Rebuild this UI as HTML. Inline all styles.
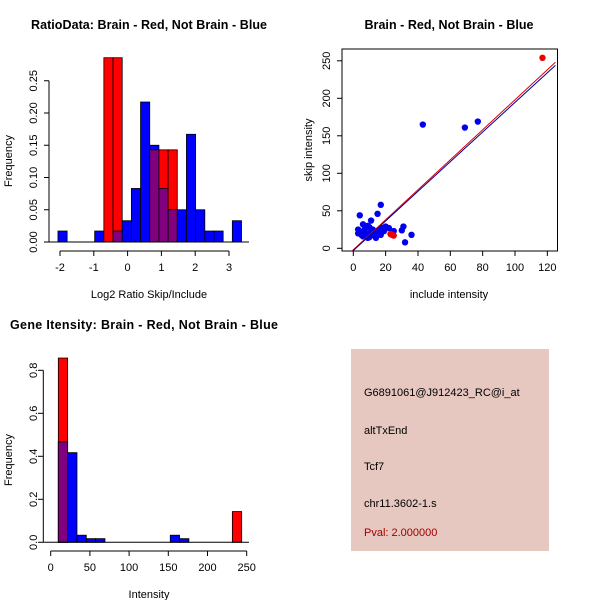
<!DOCTYPE html>
<html><head><meta charset="utf-8"><style>
body{margin:0;background:#fff;}
svg text{font-family:"Liberation Sans",sans-serif;fill:#000;}
</style></head><body>
<svg id="s" width="600" height="600" xmlns="http://www.w3.org/2000/svg">
<text x="149" y="29" font-size="12.5" font-weight="bold" text-anchor="middle" textLength="236">RatioData: Brain - Red, Not Brain - Blue</text>
<text x="449" y="29" font-size="12.5" font-weight="bold" text-anchor="middle" textLength="169">Brain - Red, Not Brain - Blue</text>
<text x="144" y="329" font-size="12.5" font-weight="bold" text-anchor="middle" textLength="268">Gene Itensity: Brain - Red, Not Brain - Blue</text>
<text x="149" y="298" font-size="11" text-anchor="middle">Log2 Ratio Skip/Include</text>
<text x="12" y="161" font-size="11" text-anchor="middle" transform="rotate(-90 12 161)">Frequency</text>
<text x="449" y="298" font-size="11" text-anchor="middle">include intensity</text>
<text x="312" y="150" font-size="11" text-anchor="middle" transform="rotate(-90 312 150)">skip intensity</text>
<text x="149" y="598" font-size="11" text-anchor="middle">Intensity</text>
<text x="12" y="460" font-size="11" text-anchor="middle" transform="rotate(-90 12 460)">Frequency</text>
<rect x="351" y="349" width="198" height="202" fill="#E6C8C0"/>
<text x="364" y="396" font-size="11">G6891061@J912423_RC@i_at</text>
<text x="364" y="434" font-size="11">altTxEnd</text>
<text x="364" y="470" font-size="11">Tcf7</text>
<text x="364" y="507" font-size="11">chr11.3602-1.s</text>
<text x="364" y="536" font-size="11" style="fill:#A00000">Pval: 2.000000</text>
<g id="g"></g>
</svg>
<script>
// Chart 1 data
const ratioBinStart=-2.06, ratioBinWidth=0.2715;
const ratioBlue=[0.017,0,0,0,0.017,0,0.017,0.033,0.083,0.217,0.15,0.083,0.05,0.05,0.167,0.05,0.017,0.017,0,0.033];
const ratioRed=[0,0,0,0,0,0.2857,0.2857,0,0,0,0.1429,0.1429,0.1429,0,0,0,0,0,0,0];
const ratioXTicks=[-2,-1,0,1,2,3];
const ratioYTicks=["0.00","0.05","0.10","0.15","0.20","0.25"];
// Chart 2 data
const blueX=[4,17,15,11,6,9,3,4,5,6,8,10,12,13,14,16,17,18,20,22,25,30,31,32,36,43,69,77,7,9,11,12,19,5,8,10,3,13,17,16];
const blueY=[44,58,46,37,32,30,25,22,18,16,20,15,18,22,14,25,20,27,29,27,23,24,29,8,18,165,161,169,25,14,22,25,23,21,17,28,20,17,18,22];
const redX=[23,25,24,117];
const redY=[19,17,18,254];
const redFit=[-2,2.0];
const blueFit=[-3,1.975];
const scatXTicks=[0,20,40,60,80,100,120];
const scatYTicks=[0,50,100,150,200,250];
// Chart 3 data
const intBinWidth=11.9;
const intBlueStarts=[9.7,21.6,33.5,45.4,57.3,152.5,164.4];
const intBlue=[0.467,0.417,0.033,0.017,0.017,0.033,0.017];
const intRedStarts=[9.7,231.7];
const intRed=[0.857,0.143];
const intXTicks=[0,50,100,150,200,250];
const intYTicks=["0.0","0.2","0.4","0.6","0.8"];

const g=document.getElementById('g');
const NS='http://www.w3.org/2000/svg';
function mk(t,a){const e=document.createElementNS(NS,t);for(const k in a)e.setAttribute(k,a[k]);g.appendChild(e);return e;}
function line(x1,y1,x2,y2,c,w){return mk('line',{x1,y1,x2,y2,stroke:c||'#000','stroke-width':w||1});}
function txt(x,y,s,rot){const e=mk('text',{x,y,'font-size':11,'text-anchor':'middle'});if(rot)e.setAttribute('transform','rotate(-90 '+x+' '+y+')');e.textContent=s;return e;}

// Chart 1
const x1=v=>60+(v+2)*33.8, y1=v=>242-v*645;
ratioBlue.forEach((b,i)=>{
  const r=ratioRed[i], a=x1(ratioBinStart+i*ratioBinWidth), w=x1(ratioBinStart+(i+1)*ratioBinWidth)-a;
  if(b>0){const e=mk('rect',{x:a,y:y1(b),width:w,height:y1(0)-y1(b),fill:'#0000FF',stroke:'#000','stroke-width':0.8});
  
  }
  if(r>0){const e=mk('rect',{x:a,y:y1(r),width:w,height:y1(0)-y1(r),fill:'#FF0000',stroke:'#000','stroke-width':0.8});
  
  }
  const m=Math.min(b,r);
  if(m>0){const e=mk('rect',{x:a,y:y1(m),width:w,height:y1(0)-y1(m),fill:'#800080',stroke:'#000','stroke-width':0.8});
  
  }
});
line(49,y1(0),249,y1(0));
line(x1(-2),251,x1(3),251);
ratioXTicks.forEach(t=>{line(x1(t),251,x1(t),256);txt(x1(t),271,String(t));});
line(49,y1(0),49,y1(0.25));
ratioYTicks.forEach(t=>{const y=y1(+t);line(44,y,49,y);txt(37,y,t,true);});

// Chart 2
const x2=v=>353.3+v*1.617, y2=v=>248.3-v*0.75;
mk('rect',{x:342,y:49,width:215.5,height:202,fill:'none',stroke:'#000'});
const cp=mk('clipPath',{id:'cp'});g.removeChild(cp);
const cr=document.createElementNS(NS,'rect');cr.setAttribute('x',342);cr.setAttribute('y',49);cr.setAttribute('width',215.5);cr.setAttribute('height',202);cp.appendChild(cr);g.appendChild(cp);
blueX.forEach((v,i)=>{const e=mk('circle',{cx:x2(v),cy:y2(blueY[i]),r:3.2,fill:'#0000EE'});

});
redX.forEach((v,i)=>{const e=mk('circle',{cx:x2(v),cy:y2(redY[i]),r:3.2,fill:'#EE0000'});

});
[[redFit,'#E00000'],[blueFit,'#0000A0']].forEach(([f,c])=>{const e=line(x2(-2),y2(f[0]+f[1]*-2),x2(125),y2(f[0]+f[1]*125),c,1);e.setAttribute('clip-path','url(#cp)');

});
scatXTicks.forEach(t=>{line(x2(t),251,x2(t),256);txt(x2(t),271,String(t));});
scatYTicks.forEach(t=>{line(337,y2(t),342,y2(t));txt(330,y2(t),String(t),true);});

// Chart 3
const x3=v=>50.7+v*0.784, y3=v=>542.3-v*215;
intBlue.forEach((b,i)=>{const a=x3(intBlueStarts[i]),w=intBinWidth*0.784;
 const e=mk('rect',{x:a,y:y3(b),width:w,height:y3(0)-y3(b),fill:'#0000FF',stroke:'#000','stroke-width':0.8});
 
 });
intRed.forEach((r,i)=>{const a=x3(intRedStarts[i]),w=intBinWidth*0.784;
 const e=mk('rect',{x:a,y:y3(r),width:w,height:y3(0)-y3(r),fill:'#FF0000',stroke:'#000','stroke-width':0.8});
 
 
 const j=intBlueStarts.indexOf(intRedStarts[i]);
 if(j>=0){const m=Math.min(r,intBlue[j]);const o=mk('rect',{x:a,y:y3(m),width:w,height:y3(0)-y3(m),fill:'#800080',stroke:'#000','stroke-width':0.8});
 
 }
});
line(43.3,y3(0),249,y3(0));
line(x3(0),551,x3(250),551);
intXTicks.forEach(t=>{line(x3(t),551,x3(t),556);txt(x3(t),571,String(t));});
line(50.7-7.4,y3(0),50.7-7.4,y3(0.8));
intYTicks.forEach(t=>{const y=y3(+t);line(38,y,43.3,y);txt(37,y,t,true);});
</script>
</body></html>
